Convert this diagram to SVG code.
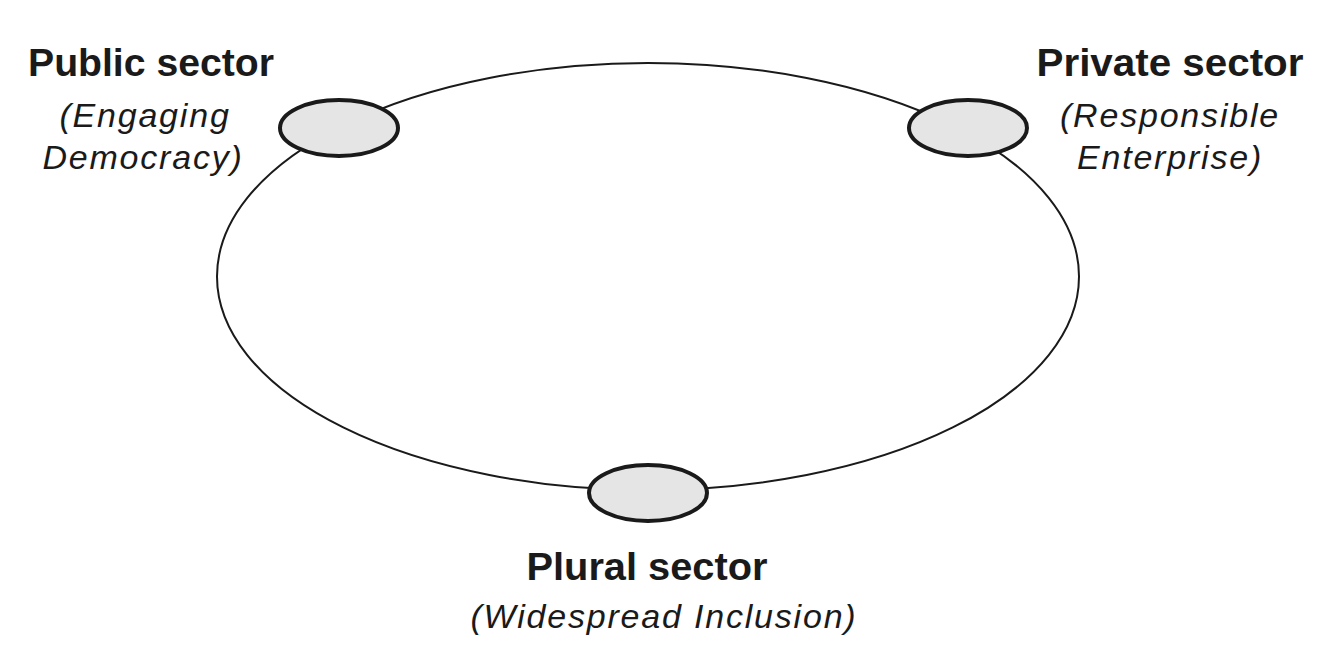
<svg xmlns="http://www.w3.org/2000/svg" width="1334" height="658" viewBox="0 0 1334 658">
<style>
.title{font-family:"Liberation Sans",Arial,sans-serif;font-weight:bold;font-size:38px;fill:#1a1a1a;text-anchor:middle}
.sub{font-family:"Liberation Sans",Arial,sans-serif;font-style:italic;font-size:34px;fill:#1a1a1a;text-anchor:middle;letter-spacing:1.8px}
.node{fill:#e5e5e5;stroke:#1a1a1a;stroke-width:4}
.ring{fill:none;stroke:#1a1a1a;stroke-width:2}
</style>
<rect width="1334" height="658" fill="#ffffff"/>
<g id="connectors">
<ellipse class="ring" cx="648" cy="276.5" rx="431" ry="213.5"/>
</g>
<g id="public">
<ellipse class="node" cx="339" cy="128" rx="59" ry="28"/>
<text class="title" x="151" y="76" textLength="246" lengthAdjust="spacingAndGlyphs">Public sector</text>
<text class="sub" x="145" y="127">(Engaging</text>
<text class="sub" x="143" y="169">Democracy)</text>
</g>
<g id="private">
<ellipse class="node" cx="968" cy="128" rx="59" ry="28"/>
<text class="title" x="1170" y="76" textLength="267" lengthAdjust="spacingAndGlyphs">Private sector</text>
<text class="sub" x="1170" y="127">(Responsible</text>
<text class="sub" x="1170" y="169">Enterprise)</text>
</g>
<g id="plural">
<ellipse class="node" cx="648" cy="493" rx="59" ry="28"/>
<text class="title" x="647" y="580" textLength="241" lengthAdjust="spacingAndGlyphs">Plural sector</text>
<text class="sub" x="664" y="628">(Widespread Inclusion)</text>
</g>
</svg>
